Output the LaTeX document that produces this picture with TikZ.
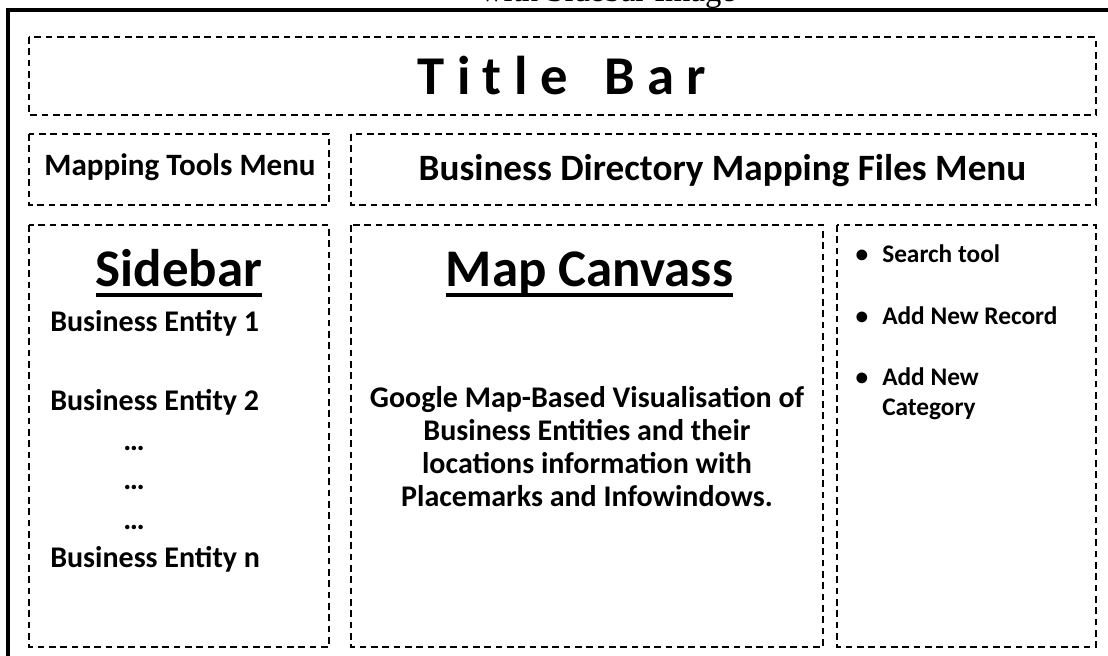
\documentclass[tikz,border=0pt]{standalone}
\usepackage{fontspec}
\setmainfont{Carlito}
\newfontfamily\captionserif{Liberation Serif}
\begin{document}
\begin{tikzpicture}[x=0.75pt,y=-0.75pt,
  dashbox/.style={draw=black, line width=1.3pt, dash pattern=on 5pt off 3.5pt},
  frame/.style={draw=black, line width=3pt},
  txt/.style={inner sep=0pt, anchor=base},
  titlefont/.style={font=\fontsize{41pt}{48pt}\selectfont\bfseries},
  menufont/.style={font=\fontsize{23.3pt}{28pt}\selectfont\bfseries},
  dirfont/.style={font=\fontsize{27.9pt}{33pt}\selectfont\bfseries},
  headfont/.style={font=\fontsize{39.7pt}{46pt}\selectfont\bfseries},
  bodyfont/.style={font=\fontsize{22.5pt}{27pt}\selectfont\bfseries},
  itemfont/.style={font=\fontsize{19pt}{23pt}\selectfont\bfseries},
  underbar/.style={draw=black, line width=2.3pt}]
\useasboundingbox (0,0) rectangle (1108,656);

% caption above the frame
\node[txt, font=\fontsize{24.5pt}{29pt}\selectfont\captionserif] (caption) at (608,2) {with Sidebar Image};

% outer window frame
\draw[frame] (8,700) -- (8,10.5) -- (1130,10.5);

% layout regions
\draw[dashbox] (29,37) rectangle (1096,115);
\draw[dashbox] (29,134) rectangle (329,205);
\draw[dashbox] (351,134) rectangle (1096,205);
\draw[dashbox] (29,225) rectangle (329,647);
\draw[dashbox] (351,225) rectangle (823,647);
\draw[dashbox] (837,225) rectangle (1096,647);

% title bar and menus
\node[txt, titlefont] (title) at (562,95) {T~i~t~l~e~~~B~a~r};
\node[txt, menufont] (tools) at (180,176) {Mapping Tools Menu};
\node[txt, dirfont] (files) at (722.5,181) {Business Directory Mapping Files Menu};

% sidebar
\node[txt, headfont] (sidebar) at (179,287) {Sidebar};
\draw[underbar] ([yshift=-6pt]sidebar.base west) -- ([yshift=-6pt]sidebar.base east);
\node[txt, bodyfont, anchor=base west] (be1) at (50,332) {Business Entity 1};
\node[txt, bodyfont, anchor=base west] (be2) at (50,410) {Business Entity 2};
\node[txt, bodyfont, anchor=base west] (d1) at (123,450) {…};
\node[txt, bodyfont, anchor=base west] (d2) at (123,489) {…};
\node[txt, bodyfont, anchor=base west] (d3) at (123,529) {…};
\node[txt, bodyfont, anchor=base west] (ben) at (50,567) {Business Entity n};

% map canvas
\node[txt, headfont] (canvas) at (589.5,287) {Map Canvass};
\draw[underbar] ([yshift=-6pt]canvas.base west) -- ([yshift=-6pt]canvas.base east);
\node[txt, bodyfont] (g1) at (587,407) {Google Map-Based Visualisation of};
\node[txt, bodyfont] (g2) at (587,440) {Business Entities and their};
\node[txt, bodyfont] (g3) at (587,473) {locations information with};
\node[txt, bodyfont] (g4) at (587,506) {Placemarks and Infowindows.};

% tools list
\node[txt, itemfont] (b1) at (862,263) {•};
\node[txt, itemfont, anchor=base west] (i1) at (882,263) {Search tool};
\node[txt, itemfont] (b2) at (862,325) {•};
\node[txt, itemfont, anchor=base west] (i2) at (882,325) {Add New Record};
\node[txt, itemfont] (b3) at (862,385) {•};
\node[txt, itemfont, anchor=base west] (i3) at (882,385) {Add New};
\node[txt, itemfont, anchor=base west] (i3b) at (882,416) {Category};
\end{tikzpicture}
\end{document}
